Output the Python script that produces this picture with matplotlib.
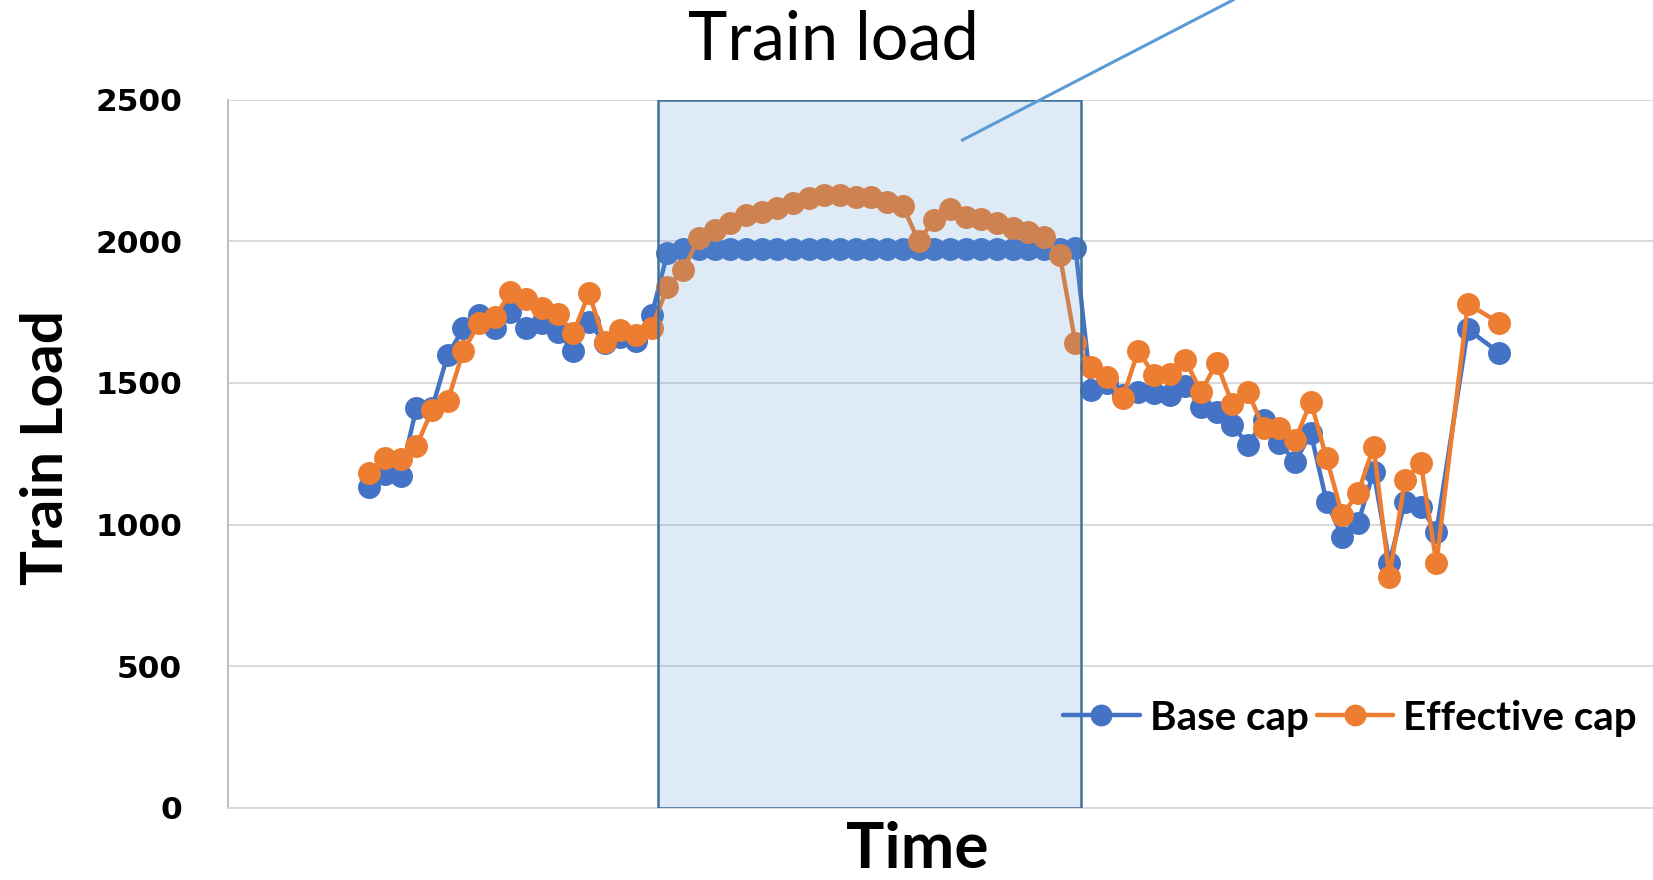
import numpy as np
import matplotlib.pyplot as plt
from matplotlib.patches import Rectangle
from matplotlib.lines import Line2D

# ---------------- data ----------------
BASE_CAP = [
    1134, 1180, 1170, 1411, 1410, 1599, 1693, 1740, 1693, 1752,
    1693, 1711, 1681, 1614, 1717, 1640, 1664, 1650, 1740, 1960,
    1975, 1975, 1975, 1975, 1975, 1975, 1975, 1975, 1975, 1975,
    1975, 1975, 1975, 1975, 1975, 1975, 1975, 1975, 1975, 1975,
    1975, 1975, 1975, 1975, 1975, 1978, 1475, 1500, 1458, 1469,
    1463, 1458, 1489, 1416, 1399, 1352, 1281, 1369, 1287, 1222,
    1322, 1081, 957, 1004, 1187, 865, 1081, 1063, 975, np.nan,
    1690, np.nan, 1607,
]
EFFECTIVE_CAP = [
    1183, 1234, 1230, 1277, 1404, 1437, 1614, 1711, 1732, 1820,
    1796, 1764, 1744, 1676, 1817, 1646, 1687, 1670, 1693, 1840,
    1899, 2011, 2041, 2064, 2094, 2105, 2117, 2135, 2152, 2164,
    2164, 2158, 2156, 2141, 2125, 2002, 2076, 2114, 2088, 2078,
    2066, 2047, 2035, 2017, 1952, 1640, 1555, 1520, 1446, 1614,
    1528, 1532, 1581, 1469, 1570, 1426, 1467, 1340, 1340, 1299,
    1434, 1234, 1034, 1110, 1275, 816, 1157, 1218, 865, np.nan,
    1779, np.nan, 1713,
]
SERIES_NAMES = ["Base cap", "Effective cap"]
Y_TICKS = [0, 500, 1000, 1500, 2000, 2500]

# ---------------- style ----------------
W, H = 1653, 880
BLUE = "#4472C4"
ORANGE = "#ED7D31"
GRID = "#D9D9D9"
FONT = "Lato"
BOX_SPAN = (18.4, 45.35)   # highlighted time window (category units)

fig = plt.figure(figsize=(W / 100, H / 100), dpi=100)
ax = fig.add_axes([228 / W, 1 - 807.5 / H, 1 - 228 / W, (807.5 - 100) / H])

x = np.arange(len(BASE_CAP))
for vals, col, name, z in [(BASE_CAP, BLUE, SERIES_NAMES[0], 3),
                           (EFFECTIVE_CAP, ORANGE, SERIES_NAMES[1], 4)]:
    y = np.asarray(vals, dtype=float)
    m = ~np.isnan(y)   # Excel joins across blank cells
    ax.plot(x[m], y[m], color=col, lw=3.2, marker="o", ms=15.5,
            label=name, zorder=z, solid_capstyle="round")

ax.set_xlim(-9.0, 81.8)
ax.set_ylim(0, 2500)
ax.set_yticks(Y_TICKS)
ax.set_yticklabels([str(v) for v in Y_TICKS], fontfamily="DejaVu Sans",
                   fontweight="bold", fontsize=22.5)
ax.tick_params(axis="y", length=0, pad=33)
ax.set_xticks([])
ax.grid(axis="y", color=GRID, lw=1.4, zorder=0)
ax.set_axisbelow(True)
for s in ["top", "right"]:
    ax.spines[s].set_visible(False)
ax.spines["left"].set_color("#BFBFBF")
ax.spines["left"].set_linewidth(1.4)
ax.spines["bottom"].set_color(GRID)
ax.spines["bottom"].set_linewidth(1.4)

# translucent highlight box drawn over the series
ax.add_patch(Rectangle((BOX_SPAN[0], 0), BOX_SPAN[1] - BOX_SPAN[0], 2500,
                       facecolor="#5B9BD5", alpha=0.2, zorder=5, lw=0))
ax.add_patch(Rectangle((BOX_SPAN[0], 0), BOX_SPAN[1] - BOX_SPAN[0], 2500,
                       facecolor="none", edgecolor="#41719C", lw=1.8, zorder=6))

# callout line leaving the top of the figure
fig.add_artist(Line2D([962.5 / W, 1233 / W], [1 - 140 / H, 1.0],
                      color="#5B9BD5", lw=2.2))

leg = ax.legend(loc="center left", bbox_to_anchor=(1043 / W, 1 - 718 / H),
                bbox_transform=fig.transFigure, ncol=2, frameon=False,
                prop={"family": FONT, "weight": "bold", "size": 29},
                handlelength=1.9, handletextpad=0.25, columnspacing=0.2,
                borderpad=0, markerscale=0.95)
leg.set_zorder(10)

fig.text(833 / W, 1 - 59 / H, "Train load", family=FONT, fontsize=48,
         ha="center", va="baseline")
fig.text(917 / W, 1 - 868 / H, "Time", family=FONT, fontweight="bold",
         fontsize=46, ha="center", va="baseline")
fig.text(47 / W, 1 - 448 / H, "Train Load", family=FONT, fontweight="bold",
         fontsize=42, ha="center", va="center", rotation=90)

fig.savefig("out.png", dpi=100)
